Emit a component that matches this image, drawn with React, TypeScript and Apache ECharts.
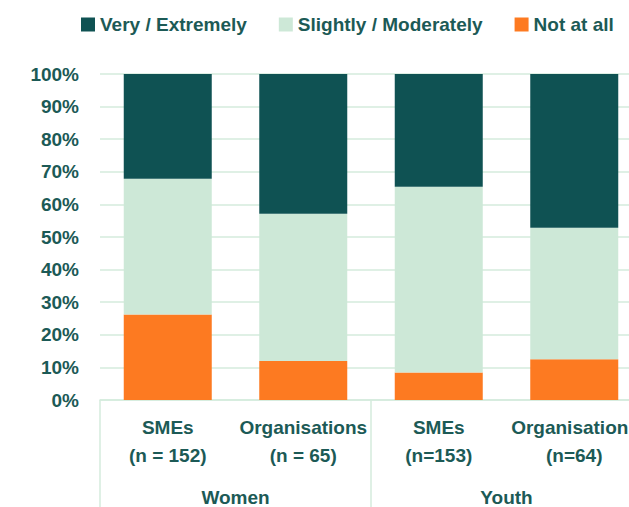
import React, { useEffect, useRef } from "react";
import * as echarts from "echarts";

const categories = ["SMEs\n(n = 152)", "Organisations\n(n = 65)", "SMEs\n(n=153)", "Organisation\n(n=64)"];
const groups = ["Women", "Youth"];
const veryExtremely = [32.1, 42.9, 34.6, 47.2];
const slightlyModerately = [41.7, 45.1, 57.0, 40.3];
const notAtAll = [26.2, 12.0, 8.4, 12.5];
const legendNames = ["Very / Extremely", "Slightly / Moderately", "Not at all"];

const TEXT = "#1c5a56";
const LINE = "#d5ebdd";
const FONT = "'Liberation Sans', Arial, sans-serif";

const labelStyle = { color: TEXT, fontSize: 19, fontWeight: "bold", fontFamily: FONT, lineHeight: 28 };

export default function App() {
  const ref = useRef<HTMLDivElement>(null);
  useEffect(() => {
    if (!ref.current) return;
    const chart = echarts.init(ref.current, null, { renderer: "svg" });
    chart.setOption({
      animation: false,
      textStyle: { fontFamily: FONT },
      legend: {
        data: legendNames,
        left: 76,
        top: 10,
        icon: "rect",
        itemWidth: 14,
        itemHeight: 14,
        itemGap: 32,
        textStyle: { color: TEXT, fontSize: 19, fontWeight: "bold", fontFamily: FONT, lineHeight: 19 },
      },
      grid: { left: 100, top: 74, right: 0, height: 327, containLabel: false },
      xAxis: [
        {
          type: "category",
          data: categories,
          axisLine: { show: true, lineStyle: { color: LINE, width: 1.5 } },
          axisTick: { show: false },
          axisLabel: {
            ...labelStyle,
            margin: 13,
            interval: 0,
            formatter: (v: string, i: number) => {
              const [a, b] = v.split("\n");
              return i === categories.length - 1 ? `{s|${a}}\n{n|${b}}` : `{n|${a}}\n{n|${b}}`;
            },
            rich: {
              n: { ...labelStyle },
              s: { ...labelStyle, padding: [0, 9, 0, 0] },
            },
          },
        },
        {
          type: "category",
          data: groups,
          position: "bottom",
          axisLine: { show: false },
          axisTick: { show: true, length: 110, lineStyle: { color: LINE, width: 1.5 } },
          axisLabel: {
            color: TEXT,
            fontSize: 19,
            fontWeight: "bold",
            fontFamily: FONT,
            lineHeight: 19,
            margin: 88,
            interval: 0,
          },
        },
      ],
      yAxis: {
        type: "value",
        min: 0,
        max: 100,
        interval: 10,
        axisLine: { show: false },
        axisTick: { show: false },
        splitLine: { show: true, lineStyle: { color: LINE, width: 1.5 } },
        axisLabel: {
          formatter: "{value}%",
          color: TEXT,
          fontSize: 19,
          fontWeight: "bold",
          fontFamily: FONT,
          margin: 21,
        },
      },
      series: [
        {
          name: "Not at all",
          type: "bar",
          stack: "total",
          barWidth: 88,
          data: notAtAll,
          itemStyle: { color: "#fd7a21" },
        },
        {
          name: "Slightly / Moderately",
          type: "bar",
          stack: "total",
          barWidth: 88,
          data: slightlyModerately,
          itemStyle: { color: "#cde8d7" },
        },
        {
          name: "Very / Extremely",
          type: "bar",
          stack: "total",
          barWidth: 88,
          data: veryExtremely,
          itemStyle: { color: "#0f5253" },
        },
      ],
    });
    return () => chart.dispose();
  }, []);
  return (
    <div style={{ width: 629, height: 507, position: "absolute", left: 0, top: 0, overflow: "hidden" }}>
      <div ref={ref} style={{ width: 642, height: 507 }} />
    </div>
  );
}
